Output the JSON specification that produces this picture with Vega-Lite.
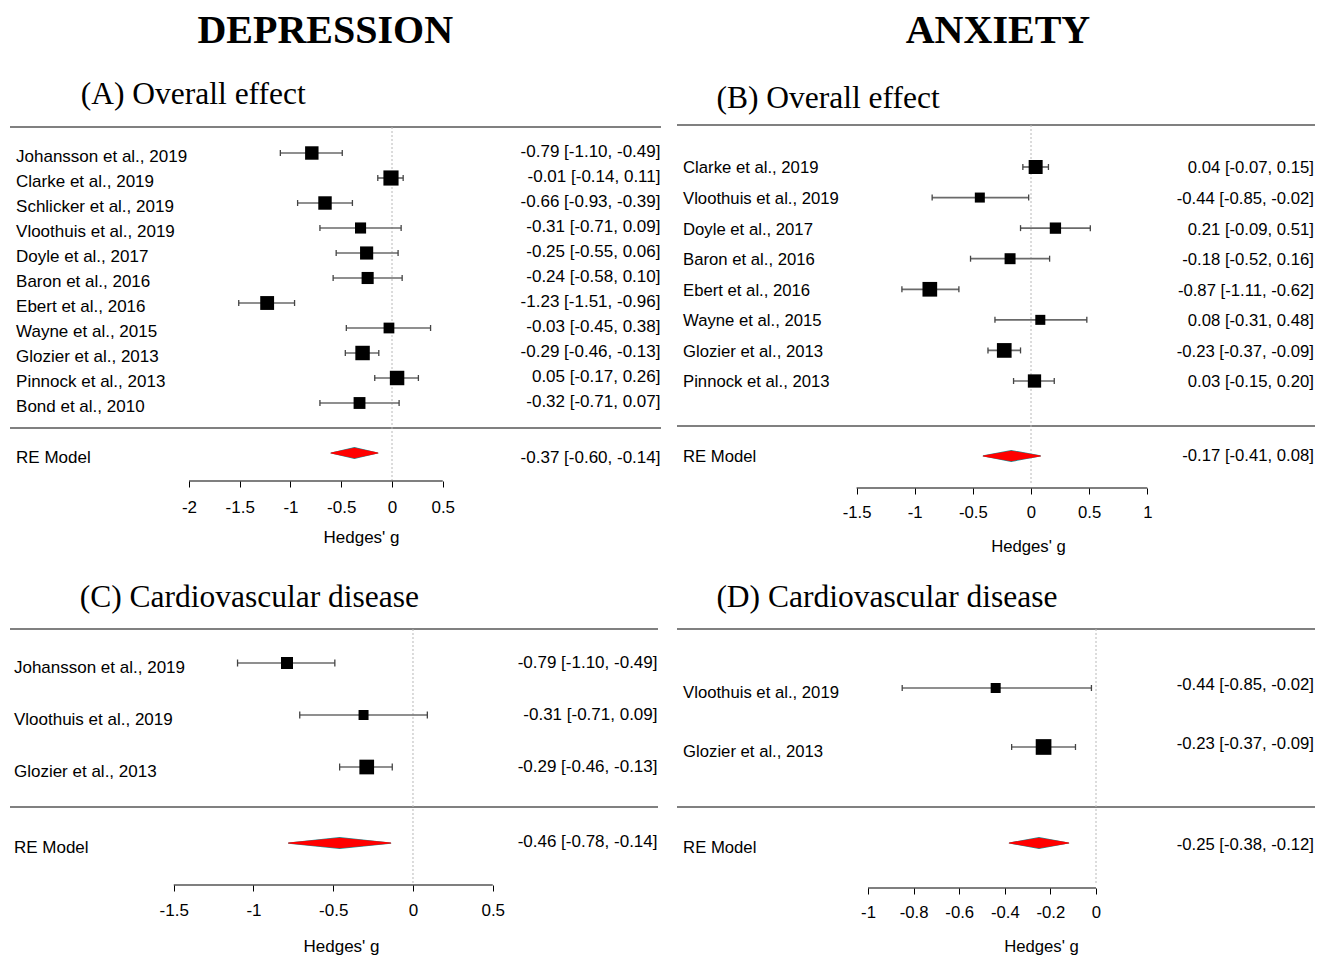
{
"$schema":"https://vega.github.io/schema/vega-lite/v6.json",
"background":"white",
"padding":{"left":9,"top":0,"right":5,"bottom":0},
"config":{"view":{"stroke":null}},
"bounds":"flush",
"align":"each",
"columns":2,
"spacing":{"row":72,"column":16},
"datasets":{
"A":[
{"row":1,"study":"Johansson et al., 2019","est":-0.79,"lb":-1.10,"ub":-0.49,"weight":9.5,"ci":"-0.79 [-1.10, -0.49]"},
{"row":2,"study":"Clarke et al., 2019","est":-0.01,"lb":-0.14,"ub":0.11,"weight":12.1,"ci":"-0.01 [-0.14, 0.11]"},
{"row":3,"study":"Schlicker et al., 2019","est":-0.66,"lb":-0.93,"ub":-0.39,"weight":9.5,"ci":"-0.66 [-0.93, -0.39]"},
{"row":4,"study":"Vloothuis et al., 2019","est":-0.31,"lb":-0.71,"ub":0.09,"weight":6.5,"ci":"-0.31 [-0.71, 0.09]"},
{"row":5,"study":"Doyle et al., 2017","est":-0.25,"lb":-0.55,"ub":0.06,"weight":9.1,"ci":"-0.25 [-0.55, 0.06]"},
{"row":6,"study":"Baron et al., 2016","est":-0.24,"lb":-0.58,"ub":0.10,"weight":7.7,"ci":"-0.24 [-0.58, 0.10]"},
{"row":7,"study":"Ebert et al., 2016","est":-1.23,"lb":-1.51,"ub":-0.96,"weight":10.1,"ci":"-1.23 [-1.51, -0.96]"},
{"row":8,"study":"Wayne et al., 2015","est":-0.03,"lb":-0.45,"ub":0.38,"weight":6.1,"ci":"-0.03 [-0.45, 0.38]"},
{"row":9,"study":"Glozier et al., 2013","est":-0.29,"lb":-0.46,"ub":-0.13,"weight":11.0,"ci":"-0.29 [-0.46, -0.13]"},
{"row":10,"study":"Pinnock et al., 2013","est":0.05,"lb":-0.17,"ub":0.26,"weight":11.0,"ci":"0.05 [-0.17, 0.26]"},
{"row":11,"study":"Bond et al., 2010","est":-0.32,"lb":-0.71,"ub":0.07,"weight":7.4,"ci":"-0.32 [-0.71, 0.07]"}
],
"B":[
{"row":1,"study":"Clarke et al., 2019","est":0.04,"lb":-0.07,"ub":0.15,"weight":15.6,"ci":"0.04 [-0.07,  0.15]"},
{"row":2,"study":"Vloothuis et al., 2019","est":-0.44,"lb":-0.85,"ub":-0.02,"weight":8.0,"ci":"-0.44 [-0.85, -0.02]"},
{"row":3,"study":"Doyle et al., 2017","est":0.21,"lb":-0.09,"ub":0.51,"weight":10.2,"ci":"0.21 [-0.09, 0.51]"},
{"row":4,"study":"Baron et al., 2016","est":-0.18,"lb":-0.52,"ub":0.16,"weight":9.6,"ci":"-0.18 [-0.52, 0.16]"},
{"row":5,"study":"Ebert et al., 2016","est":-0.87,"lb":-1.11,"ub":-0.62,"weight":17.2,"ci":"-0.87 [-1.11, -0.62]"},
{"row":6,"study":"Wayne et al., 2015","est":0.08,"lb":-0.31,"ub":0.48,"weight":8.0,"ci":"0.08 [-0.31, 0.48]"},
{"row":7,"study":"Glozier et al., 2013","est":-0.23,"lb":-0.37,"ub":-0.09,"weight":17.2,"ci":"-0.23 [-0.37, -0.09]"},
{"row":8,"study":"Pinnock et al., 2013","est":0.03,"lb":-0.15,"ub":0.20,"weight":14.1,"ci":"0.03 [-0.15, 0.20]"}
],
"C":[
{"row":1,"study":"Johansson et al., 2019","est":-0.79,"lb":-1.10,"ub":-0.49,"weight":31.3,"ci":"-0.79 [-1.10, -0.49]"},
{"row":2,"study":"Vloothuis et al., 2019","est":-0.31,"lb":-0.71,"ub":0.09,"weight":21.7,"ci":"-0.31 [-0.71, 0.09]"},
{"row":3,"study":"Glozier et al., 2013","est":-0.29,"lb":-0.46,"ub":-0.13,"weight":47.0,"ci":"-0.29 [-0.46, -0.13]"}
],
"D":[
{"row":1,"study":"Vloothuis et al., 2019","est":-0.44,"lb":-0.85,"ub":-0.02,"weight":28.9,"ci":"-0.44 [-0.85, -0.02]"},
{"row":2,"study":"Glozier et al., 2013","est":-0.23,"lb":-0.37,"ub":-0.09,"weight":71.1,"ci":"-0.23 [-0.37, -0.09]"}
],
"REA":[{"model":"RE Model","est":-0.37,"lb":-0.60,"ub":-0.14,"ci":"-0.37 [-0.60, -0.14]"}],
"REB":[{"model":"RE Model","est":-0.17,"lb":-0.41,"ub":0.08,"ci":"-0.17 [-0.41, 0.08]"}],
"REC":[{"model":"RE Model","est":-0.46,"lb":-0.78,"ub":-0.14,"ci":"-0.46 [-0.78, -0.14]"}],
"RED":[{"model":"RE Model","est":-0.25,"lb":-0.38,"ub":-0.12,"ci":"-0.25 [-0.38, -0.12]"}]
},
"concat":[
{
"width":651,"height":481,
"resolve":{"axis":{"x":"independent"}},
"layer":[
{"data":{"values":[{"t":"DEPRESSION"}]},"mark":{"type":"text","font":"Liberation Serif","fontSize":40,"fontWeight":"bold","align":"center","baseline":"alphabetic","color":"black"},"encoding":{"text":{"field":"t"},"x":{"datum":-0.658,"type":"quantitative","scale":{"domain":[-3.7635,2.6502],"nice":false,"zero":false},"axis":null},"y":{"datum":-3.39,"type":"quantitative","scale":{"domain":[-5.12,14.12],"nice":false,"zero":false,"reverse":true},"axis":null}}},
{"data":{"values":[{"t":"(A) Overall effect"}]},"mark":{"type":"text","font":"Liberation Serif","fontSize":31.5,"align":"left","baseline":"alphabetic","color":"black"},"encoding":{"text":{"field":"t"},"x":{"datum":-3.067,"type":"quantitative","scale":{"domain":[-3.7635,2.6502],"nice":false,"zero":false},"axis":null},"y":{"datum":-0.96,"type":"quantitative","scale":{"domain":[-5.12,14.12],"nice":false,"zero":false,"reverse":true},"axis":null}}},
{"data":{"values":[{}]},"mark":{"type":"rule","color":"#808080","strokeWidth":2},"encoding":{"y":{"datum":-0.04,"type":"quantitative","scale":{"domain":[-5.12,14.12],"nice":false,"zero":false,"reverse":true},"axis":null}}},
{"data":{"values":[{}]},"mark":{"type":"rule","color":"#808080","strokeWidth":2},"encoding":{"y":{"datum":12.0,"type":"quantitative","scale":{"domain":[-5.12,14.12],"nice":false,"zero":false,"reverse":true},"axis":null}}},
{"data":{"values":[{}]},"mark":{"type":"rule","color":"#b8b8b8","strokeWidth":1,"strokeDash":[2,2]},"encoding":{"x":{"datum":0,"type":"quantitative","scale":{"domain":[-3.7635,2.6502],"nice":false,"zero":false},"axis":null},"y":{"datum":-0.04,"type":"quantitative","scale":{"domain":[-5.12,14.12],"nice":false,"zero":false,"reverse":true},"axis":null},"y2":{"datum":14.08}}},
{"data":{"values":[{}]},"mark":{"type":"rule","color":"black","strokeWidth":1.2},"encoding":{"x":{"datum":-2,"type":"quantitative","scale":{"domain":[-3.7635,2.6502],"nice":false,"zero":false},"axis":null},"x2":{"datum":0.5},"y":{"datum":14.12,"type":"quantitative","scale":{"domain":[-5.12,14.12],"nice":false,"zero":false,"reverse":true},"axis":null}}},
{"data":{"name":"A"},"mark":{"type":"rule","color":"#6a6a6a","strokeWidth":1.7},"encoding":{"x":{"field":"lb","type":"quantitative","scale":{"domain":[-3.7635,2.6502],"nice":false,"zero":false},"axis":{"orient":"bottom","values":[-2,-1.5,-1,-0.5,0,0.5],"domain":false,"grid":false,"tickSize":6,"tickColor":"black","tickWidth":1,"labelFont":"Liberation Sans","labelFontSize":17,"labelColor":"black","labelPadding":12,"labelExpr":"datum.value + ''","labelFlush":false,"labelOverlap":false,"title":"Hedges' g","titleFont":"Liberation Sans","titleFontSize":17,"titleFontWeight":"normal","titleColor":"black","titlePadding":14,"titleX":351}},"x2":{"field":"ub"},"y":{"field":"row","type":"quantitative","scale":{"domain":[-5.12,14.12],"nice":false,"zero":false,"reverse":true},"axis":null}}},
{"data":{"name":"A"},"mark":{"type":"point","shape":"M0,-1L0,1","filled":false,"color":"#444444","strokeWidth":1.3,"size":36,"opacity":1},"encoding":{"x":{"field":"lb","type":"quantitative","scale":{"domain":[-3.7635,2.6502],"nice":false,"zero":false},"axis":null},"y":{"field":"row","type":"quantitative","scale":{"domain":[-5.12,14.12],"nice":false,"zero":false,"reverse":true},"axis":null}}},
{"data":{"name":"A"},"mark":{"type":"point","shape":"M0,-1L0,1","filled":false,"color":"#444444","strokeWidth":1.3,"size":36,"opacity":1},"encoding":{"x":{"field":"ub","type":"quantitative","scale":{"domain":[-3.7635,2.6502],"nice":false,"zero":false},"axis":null},"y":{"field":"row","type":"quantitative","scale":{"domain":[-5.12,14.12],"nice":false,"zero":false,"reverse":true},"axis":null}}},
{"data":{"name":"A"},"mark":{"type":"point","shape":"square","filled":true,"color":"black","opacity":1},"encoding":{"x":{"field":"est","type":"quantitative","scale":{"domain":[-3.7635,2.6502],"nice":false,"zero":false},"axis":null},"y":{"field":"row","type":"quantitative","scale":{"domain":[-5.12,14.12],"nice":false,"zero":false,"reverse":true},"axis":null},"size":{"field":"weight","type":"quantitative","scale":{"domain":[0,100],"range":[0,1900]},"legend":null}}},
{"data":{"name":"A"},"mark":{"type":"text","font":"Liberation Sans","fontSize":17,"align":"left","baseline":"middle","dy":4,"color":"black"},"encoding":{"text":{"field":"study"},"x":{"datum":-3.704,"type":"quantitative","scale":{"domain":[-3.7635,2.6502],"nice":false,"zero":false},"axis":null},"y":{"field":"row","type":"quantitative","scale":{"domain":[-5.12,14.12],"nice":false,"zero":false,"reverse":true},"axis":null}}},
{"data":{"name":"A"},"mark":{"type":"text","font":"Liberation Sans","fontSize":17,"align":"right","baseline":"middle","dy":-1,"color":"black"},"encoding":{"text":{"field":"ci"},"x":{"datum":2.645,"type":"quantitative","scale":{"domain":[-3.7635,2.6502],"nice":false,"zero":false},"axis":null},"y":{"field":"row","type":"quantitative","scale":{"domain":[-5.12,14.12],"nice":false,"zero":false,"reverse":true},"axis":null}}},
{"data":{"name":"REA"},"mark":{"type":"text","font":"Liberation Sans","fontSize":17,"align":"left","baseline":"middle","dy":5,"color":"black"},"encoding":{"text":{"field":"model"},"x":{"datum":-3.704,"type":"quantitative","scale":{"domain":[-3.7635,2.6502],"nice":false,"zero":false},"axis":null},"y":{"datum":13,"type":"quantitative","scale":{"domain":[-5.12,14.12],"nice":false,"zero":false,"reverse":true},"axis":null}}},
{"data":{"name":"REA"},"mark":{"type":"text","font":"Liberation Sans","fontSize":17,"align":"right","baseline":"middle","dy":5,"color":"black"},"encoding":{"text":{"field":"ci"},"x":{"datum":2.645,"type":"quantitative","scale":{"domain":[-3.7635,2.6502],"nice":false,"zero":false},"axis":null},"y":{"datum":13,"type":"quantitative","scale":{"domain":[-5.12,14.12],"nice":false,"zero":false,"reverse":true},"axis":null}}},
{"data":{"name":"REA"},"transform":[{"fold":["lb","est","ub"],"as":["part","g"]}],"mark":{"type":"trail","color":"#1f8f95"},"encoding":{"x":{"field":"g","type":"quantitative","scale":{"domain":[-3.7635,2.6502],"nice":false,"zero":false},"axis":null},"y":{"datum":13,"type":"quantitative","scale":{"domain":[-5.12,14.12],"nice":false,"zero":false,"reverse":true},"axis":null},"size":{"field":"part","type":"ordinal","scale":{"type":"ordinal","domain":["lb","est","ub"],"range":[1.2,12,1.2]},"legend":null},"order":{"field":"g","type":"quantitative"}}},
{"data":{"name":"REA"},"transform":[{"fold":["lb","est","ub"],"as":["part","g"]}],"mark":{"type":"trail","color":"red"},"encoding":{"x":{"field":"g","type":"quantitative","scale":{"domain":[-3.7635,2.6502],"nice":false,"zero":false},"axis":null},"y":{"datum":13,"type":"quantitative","scale":{"domain":[-5.12,14.12],"nice":false,"zero":false,"reverse":true},"axis":null},"size":{"field":"part","type":"ordinal","scale":{"type":"ordinal","domain":["lb","est","ub"],"range":[0,10.5,0]},"legend":null},"order":{"field":"g","type":"quantitative"}}}
]
},
{
"width":638,"height":488,
"resolve":{"axis":{"x":"independent"}},
"layer":[
{"data":{"values":[{"t":"ANXIETY"}]},"mark":{"type":"text","font":"Liberation Serif","fontSize":40,"fontWeight":"bold","align":"center","baseline":"alphabetic","color":"black"},"encoding":{"text":{"field":"t"},"x":{"datum":-0.284,"type":"quantitative","scale":{"domain":[-3.0439,2.4420],"nice":false,"zero":false},"axis":null},"y":{"datum":-3.045,"type":"quantitative","scale":{"domain":[-4.462,11.50],"nice":false,"zero":false,"reverse":true},"axis":null}}},
{"data":{"values":[{"t":"(B) Overall effect"}]},"mark":{"type":"text","font":"Liberation Serif","fontSize":31.5,"align":"left","baseline":"alphabetic","color":"black"},"encoding":{"text":{"field":"t"},"x":{"datum":-2.705,"type":"quantitative","scale":{"domain":[-3.0439,2.4420],"nice":false,"zero":false},"axis":null},"y":{"datum":-0.945,"type":"quantitative","scale":{"domain":[-4.462,11.50],"nice":false,"zero":false,"reverse":true},"axis":null}}},
{"data":{"values":[{}]},"mark":{"type":"rule","color":"#808080","strokeWidth":2},"encoding":{"y":{"datum":-0.373,"type":"quantitative","scale":{"domain":[-4.462,11.50],"nice":false,"zero":false,"reverse":true},"axis":null}}},
{"data":{"values":[{}]},"mark":{"type":"rule","color":"#808080","strokeWidth":2},"encoding":{"y":{"datum":9.47,"type":"quantitative","scale":{"domain":[-4.462,11.50],"nice":false,"zero":false,"reverse":true},"axis":null}}},
{"data":{"values":[{}]},"mark":{"type":"rule","color":"#b8b8b8","strokeWidth":1,"strokeDash":[2,2]},"encoding":{"x":{"datum":0,"type":"quantitative","scale":{"domain":[-3.0439,2.4420],"nice":false,"zero":false},"axis":null},"y":{"datum":-0.373,"type":"quantitative","scale":{"domain":[-4.462,11.50],"nice":false,"zero":false,"reverse":true},"axis":null},"y2":{"datum":11.34}}},
{"data":{"values":[{}]},"mark":{"type":"rule","color":"black","strokeWidth":1.2},"encoding":{"x":{"datum":-1.5,"type":"quantitative","scale":{"domain":[-3.0439,2.4420],"nice":false,"zero":false},"axis":null},"x2":{"datum":1},"y":{"datum":11.50,"type":"quantitative","scale":{"domain":[-4.462,11.50],"nice":false,"zero":false,"reverse":true},"axis":null}}},
{"data":{"name":"B"},"mark":{"type":"rule","color":"#6a6a6a","strokeWidth":1.7},"encoding":{"x":{"field":"lb","type":"quantitative","scale":{"domain":[-3.0439,2.4420],"nice":false,"zero":false},"axis":{"orient":"bottom","values":[-1.5,-1,-0.5,0,0.5,1],"domain":false,"grid":false,"tickSize":6,"tickColor":"black","tickWidth":1,"labelFont":"Liberation Sans","labelFontSize":16.7,"labelColor":"black","labelPadding":10,"labelExpr":"datum.value + ''","labelFlush":false,"labelOverlap":false,"title":"Hedges' g","titleFont":"Liberation Sans","titleFontSize":16.7,"titleFontWeight":"normal","titleColor":"black","titlePadding":18,"titleX":351}},"x2":{"field":"ub"},"y":{"field":"row","type":"quantitative","scale":{"domain":[-4.462,11.50],"nice":false,"zero":false,"reverse":true},"axis":null}}},
{"data":{"name":"B"},"mark":{"type":"point","shape":"M0,-1L0,1","filled":false,"color":"#444444","strokeWidth":1.3,"size":36,"opacity":1},"encoding":{"x":{"field":"lb","type":"quantitative","scale":{"domain":[-3.0439,2.4420],"nice":false,"zero":false},"axis":null},"y":{"field":"row","type":"quantitative","scale":{"domain":[-4.462,11.50],"nice":false,"zero":false,"reverse":true},"axis":null}}},
{"data":{"name":"B"},"mark":{"type":"point","shape":"M0,-1L0,1","filled":false,"color":"#444444","strokeWidth":1.3,"size":36,"opacity":1},"encoding":{"x":{"field":"ub","type":"quantitative","scale":{"domain":[-3.0439,2.4420],"nice":false,"zero":false},"axis":null},"y":{"field":"row","type":"quantitative","scale":{"domain":[-4.462,11.50],"nice":false,"zero":false,"reverse":true},"axis":null}}},
{"data":{"name":"B"},"mark":{"type":"point","shape":"square","filled":true,"color":"black","opacity":1},"encoding":{"x":{"field":"est","type":"quantitative","scale":{"domain":[-3.0439,2.4420],"nice":false,"zero":false},"axis":null},"y":{"field":"row","type":"quantitative","scale":{"domain":[-4.462,11.50],"nice":false,"zero":false,"reverse":true},"axis":null},"size":{"field":"weight","type":"quantitative","scale":{"domain":[0,100],"range":[0,1254]},"legend":null}}},
{"data":{"name":"B"},"mark":{"type":"text","font":"Liberation Sans","fontSize":16.7,"align":"left","baseline":"middle","dy":1.5,"color":"black"},"encoding":{"text":{"field":"study"},"x":{"datum":-2.992,"type":"quantitative","scale":{"domain":[-3.0439,2.4420],"nice":false,"zero":false},"axis":null},"y":{"field":"row","type":"quantitative","scale":{"domain":[-4.462,11.50],"nice":false,"zero":false,"reverse":true},"axis":null}}},
{"data":{"name":"B"},"mark":{"type":"text","font":"Liberation Sans","fontSize":16.7,"align":"right","baseline":"middle","dy":1.5,"color":"black"},"encoding":{"text":{"field":"ci"},"x":{"datum":2.433,"type":"quantitative","scale":{"domain":[-3.0439,2.4420],"nice":false,"zero":false},"axis":null},"y":{"field":"row","type":"quantitative","scale":{"domain":[-4.462,11.50],"nice":false,"zero":false,"reverse":true},"axis":null}}},
{"data":{"name":"REB"},"mark":{"type":"text","font":"Liberation Sans","fontSize":16.7,"align":"left","baseline":"middle","dy":1.3,"color":"black"},"encoding":{"text":{"field":"model"},"x":{"datum":-2.992,"type":"quantitative","scale":{"domain":[-3.0439,2.4420],"nice":false,"zero":false},"axis":null},"y":{"datum":10.45,"type":"quantitative","scale":{"domain":[-4.462,11.50],"nice":false,"zero":false,"reverse":true},"axis":null}}},
{"data":{"name":"REB"},"mark":{"type":"text","font":"Liberation Sans","fontSize":16.7,"align":"right","baseline":"middle","dy":0,"color":"black"},"encoding":{"text":{"field":"ci"},"x":{"datum":2.433,"type":"quantitative","scale":{"domain":[-3.0439,2.4420],"nice":false,"zero":false},"axis":null},"y":{"datum":10.45,"type":"quantitative","scale":{"domain":[-4.462,11.50],"nice":false,"zero":false,"reverse":true},"axis":null}}},
{"data":{"name":"REB"},"transform":[{"fold":["lb","est","ub"],"as":["part","g"]}],"mark":{"type":"trail","color":"#1f8f95"},"encoding":{"x":{"field":"g","type":"quantitative","scale":{"domain":[-3.0439,2.4420],"nice":false,"zero":false},"axis":null},"y":{"datum":10.45,"type":"quantitative","scale":{"domain":[-4.462,11.50],"nice":false,"zero":false,"reverse":true},"axis":null},"size":{"field":"part","type":"ordinal","scale":{"type":"ordinal","domain":["lb","est","ub"],"range":[1.2,12,1.2]},"legend":null},"order":{"field":"g","type":"quantitative"}}},
{"data":{"name":"REB"},"transform":[{"fold":["lb","est","ub"],"as":["part","g"]}],"mark":{"type":"trail","color":"red"},"encoding":{"x":{"field":"g","type":"quantitative","scale":{"domain":[-3.0439,2.4420],"nice":false,"zero":false},"axis":null},"y":{"datum":10.45,"type":"quantitative","scale":{"domain":[-4.462,11.50],"nice":false,"zero":false,"reverse":true},"axis":null},"size":{"field":"part","type":"ordinal","scale":{"type":"ordinal","domain":["lb","est","ub"],"range":[0,10.5,0]},"legend":null},"order":{"field":"g","type":"quantitative"}}}
]
},
{
"width":648,"height":325,
"resolve":{"axis":{"x":"independent"}},
"layer":[
{"data":{"values":[{"t":"(C) Cardiovascular disease"}]},"mark":{"type":"text","font":"Liberation Serif","fontSize":31.5,"align":"left","baseline":"alphabetic","color":"black"},"encoding":{"text":{"field":"t"},"x":{"datum":-2.09,"type":"quantitative","scale":{"domain":[-2.5266,1.5361],"nice":false,"zero":false},"axis":null},"y":{"datum":-0.071,"type":"quantitative","scale":{"domain":[-0.981,5.269],"nice":false,"zero":false,"reverse":true},"axis":null}}},
{"data":{"values":[{}]},"mark":{"type":"rule","color":"#808080","strokeWidth":2},"encoding":{"y":{"datum":0.346,"type":"quantitative","scale":{"domain":[-0.981,5.269],"nice":false,"zero":false,"reverse":true},"axis":null}}},
{"data":{"values":[{}]},"mark":{"type":"rule","color":"#808080","strokeWidth":2},"encoding":{"y":{"datum":3.77,"type":"quantitative","scale":{"domain":[-0.981,5.269],"nice":false,"zero":false,"reverse":true},"axis":null}}},
{"data":{"values":[{}]},"mark":{"type":"rule","color":"#b8b8b8","strokeWidth":1,"strokeDash":[2,2]},"encoding":{"x":{"datum":0,"type":"quantitative","scale":{"domain":[-2.5266,1.5361],"nice":false,"zero":false},"axis":null},"y":{"datum":0.346,"type":"quantitative","scale":{"domain":[-0.981,5.269],"nice":false,"zero":false,"reverse":true},"axis":null},"y2":{"datum":5.23}}},
{"data":{"values":[{}]},"mark":{"type":"rule","color":"black","strokeWidth":1.2},"encoding":{"x":{"datum":-1.5,"type":"quantitative","scale":{"domain":[-2.5266,1.5361],"nice":false,"zero":false},"axis":null},"x2":{"datum":0.5},"y":{"datum":5.269,"type":"quantitative","scale":{"domain":[-0.981,5.269],"nice":false,"zero":false,"reverse":true},"axis":null}}},
{"data":{"name":"C"},"mark":{"type":"rule","color":"#6a6a6a","strokeWidth":1.7},"encoding":{"x":{"field":"lb","type":"quantitative","scale":{"domain":[-2.5266,1.5361],"nice":false,"zero":false},"axis":{"orient":"bottom","values":[-1.5,-1,-0.5,0,0.5],"domain":false,"grid":false,"tickSize":6,"tickColor":"black","tickWidth":1,"labelFont":"Liberation Sans","labelFontSize":17,"labelColor":"black","labelPadding":11,"labelExpr":"datum.value + ''","labelFlush":false,"labelOverlap":false,"title":"Hedges' g","titleFont":"Liberation Sans","titleFontSize":17,"titleFontWeight":"normal","titleColor":"black","titlePadding":20,"titleX":331}},"x2":{"field":"ub"},"y":{"field":"row","type":"quantitative","scale":{"domain":[-0.981,5.269],"nice":false,"zero":false,"reverse":true},"axis":null}}},
{"data":{"name":"C"},"mark":{"type":"point","shape":"M0,-1L0,1","filled":false,"color":"#444444","strokeWidth":1.3,"size":49,"opacity":1},"encoding":{"x":{"field":"lb","type":"quantitative","scale":{"domain":[-2.5266,1.5361],"nice":false,"zero":false},"axis":null},"y":{"field":"row","type":"quantitative","scale":{"domain":[-0.981,5.269],"nice":false,"zero":false,"reverse":true},"axis":null}}},
{"data":{"name":"C"},"mark":{"type":"point","shape":"M0,-1L0,1","filled":false,"color":"#444444","strokeWidth":1.3,"size":49,"opacity":1},"encoding":{"x":{"field":"ub","type":"quantitative","scale":{"domain":[-2.5266,1.5361],"nice":false,"zero":false},"axis":null},"y":{"field":"row","type":"quantitative","scale":{"domain":[-0.981,5.269],"nice":false,"zero":false,"reverse":true},"axis":null}}},
{"data":{"name":"C"},"mark":{"type":"point","shape":"square","filled":true,"color":"black","opacity":1},"encoding":{"x":{"field":"est","type":"quantitative","scale":{"domain":[-2.5266,1.5361],"nice":false,"zero":false},"axis":null},"y":{"field":"row","type":"quantitative","scale":{"domain":[-0.981,5.269],"nice":false,"zero":false,"reverse":true},"axis":null},"size":{"field":"weight","type":"quantitative","scale":{"domain":[0,100],"range":[0,460]},"legend":null}}},
{"data":{"name":"C"},"mark":{"type":"text","font":"Liberation Sans","fontSize":17,"align":"left","baseline":"middle","dy":5,"color":"black"},"encoding":{"text":{"field":"study"},"x":{"datum":-2.502,"type":"quantitative","scale":{"domain":[-2.5266,1.5361],"nice":false,"zero":false},"axis":null},"y":{"field":"row","type":"quantitative","scale":{"domain":[-0.981,5.269],"nice":false,"zero":false,"reverse":true},"axis":null}}},
{"data":{"name":"C"},"mark":{"type":"text","font":"Liberation Sans","fontSize":17,"align":"right","baseline":"middle","dy":0,"color":"black"},"encoding":{"text":{"field":"ci"},"x":{"datum":1.533,"type":"quantitative","scale":{"domain":[-2.5266,1.5361],"nice":false,"zero":false},"axis":null},"y":{"field":"row","type":"quantitative","scale":{"domain":[-0.981,5.269],"nice":false,"zero":false,"reverse":true},"axis":null}}},
{"data":{"name":"REC"},"mark":{"type":"text","font":"Liberation Sans","fontSize":17,"align":"left","baseline":"middle","dy":5,"color":"black"},"encoding":{"text":{"field":"model"},"x":{"datum":-2.502,"type":"quantitative","scale":{"domain":[-2.5266,1.5361],"nice":false,"zero":false},"axis":null},"y":{"datum":4.462,"type":"quantitative","scale":{"domain":[-0.981,5.269],"nice":false,"zero":false,"reverse":true},"axis":null}}},
{"data":{"name":"REC"},"mark":{"type":"text","font":"Liberation Sans","fontSize":17,"align":"right","baseline":"middle","dy":-1,"color":"black"},"encoding":{"text":{"field":"ci"},"x":{"datum":1.533,"type":"quantitative","scale":{"domain":[-2.5266,1.5361],"nice":false,"zero":false},"axis":null},"y":{"datum":4.462,"type":"quantitative","scale":{"domain":[-0.981,5.269],"nice":false,"zero":false,"reverse":true},"axis":null}}},
{"data":{"name":"REC"},"transform":[{"fold":["lb","est","ub"],"as":["part","g"]}],"mark":{"type":"trail","color":"#1f8f95"},"encoding":{"x":{"field":"g","type":"quantitative","scale":{"domain":[-2.5266,1.5361],"nice":false,"zero":false},"axis":null},"y":{"datum":4.462,"type":"quantitative","scale":{"domain":[-0.981,5.269],"nice":false,"zero":false,"reverse":true},"axis":null},"size":{"field":"part","type":"ordinal","scale":{"type":"ordinal","domain":["lb","est","ub"],"range":[1.2,12,1.2]},"legend":null},"order":{"field":"g","type":"quantitative"}}},
{"data":{"name":"REC"},"transform":[{"fold":["lb","est","ub"],"as":["part","g"]}],"mark":{"type":"trail","color":"red"},"encoding":{"x":{"field":"g","type":"quantitative","scale":{"domain":[-2.5266,1.5361],"nice":false,"zero":false},"axis":null},"y":{"datum":4.462,"type":"quantitative","scale":{"domain":[-0.981,5.269],"nice":false,"zero":false,"reverse":true},"axis":null},"size":{"field":"part","type":"ordinal","scale":{"type":"ordinal","domain":["lb","est","ub"],"range":[0,10.5,0]},"legend":null},"order":{"field":"g","type":"quantitative"}}}
]
},
{
"width":638,"height":328,
"resolve":{"axis":{"x":"independent"}},
"layer":[
{"data":{"values":[{"t":"(D) Cardiovascular disease"}]},"mark":{"type":"text","font":"Liberation Serif","fontSize":31.5,"align":"left","baseline":"alphabetic","color":"black"},"encoding":{"text":{"field":"t"},"x":{"datum":-1.665,"type":"quantitative","scale":{"domain":[-1.8377,0.9605],"nice":false,"zero":false},"axis":null},"y":{"datum":-0.378,"type":"quantitative","scale":{"domain":[-1.169,4.390],"nice":false,"zero":false,"reverse":true},"axis":null}}},
{"data":{"values":[{}]},"mark":{"type":"rule","color":"#808080","strokeWidth":2},"encoding":{"y":{"datum":0,"type":"quantitative","scale":{"domain":[-1.169,4.390],"nice":false,"zero":false,"reverse":true},"axis":null}}},
{"data":{"values":[{}]},"mark":{"type":"rule","color":"#808080","strokeWidth":2},"encoding":{"y":{"datum":3.017,"type":"quantitative","scale":{"domain":[-1.169,4.390],"nice":false,"zero":false,"reverse":true},"axis":null}}},
{"data":{"values":[{}]},"mark":{"type":"rule","color":"#b8b8b8","strokeWidth":1,"strokeDash":[2,2]},"encoding":{"x":{"datum":0,"type":"quantitative","scale":{"domain":[-1.8377,0.9605],"nice":false,"zero":false},"axis":null},"y":{"datum":0,"type":"quantitative","scale":{"domain":[-1.169,4.390],"nice":false,"zero":false,"reverse":true},"axis":null},"y2":{"datum":4.305}}},
{"data":{"values":[{}]},"mark":{"type":"rule","color":"black","strokeWidth":1.2},"encoding":{"x":{"datum":-1,"type":"quantitative","scale":{"domain":[-1.8377,0.9605],"nice":false,"zero":false},"axis":null},"x2":{"datum":0},"y":{"datum":4.390,"type":"quantitative","scale":{"domain":[-1.169,4.390],"nice":false,"zero":false,"reverse":true},"axis":null}}},
{"data":{"name":"D"},"mark":{"type":"rule","color":"#6a6a6a","strokeWidth":1.7},"encoding":{"x":{"field":"lb","type":"quantitative","scale":{"domain":[-1.8377,0.9605],"nice":false,"zero":false},"axis":{"orient":"bottom","values":[-1,-0.8,-0.6,-0.4,-0.2,0],"domain":false,"grid":false,"tickSize":6,"tickColor":"black","tickWidth":1,"labelFont":"Liberation Sans","labelFontSize":16.7,"labelColor":"black","labelPadding":10,"labelExpr":"datum.value + ''","labelFlush":false,"labelOverlap":false,"title":"Hedges' g","titleFont":"Liberation Sans","titleFontSize":16.7,"titleFontWeight":"normal","titleColor":"black","titlePadding":18,"titleX":364}},"x2":{"field":"ub"},"y":{"field":"row","type":"quantitative","scale":{"domain":[-1.169,4.390],"nice":false,"zero":false,"reverse":true},"axis":null}}},
{"data":{"name":"D"},"mark":{"type":"point","shape":"M0,-1L0,1","filled":false,"color":"#444444","strokeWidth":1.3,"size":36,"opacity":1},"encoding":{"x":{"field":"lb","type":"quantitative","scale":{"domain":[-1.8377,0.9605],"nice":false,"zero":false},"axis":null},"y":{"field":"row","type":"quantitative","scale":{"domain":[-1.169,4.390],"nice":false,"zero":false,"reverse":true},"axis":null}}},
{"data":{"name":"D"},"mark":{"type":"point","shape":"M0,-1L0,1","filled":false,"color":"#444444","strokeWidth":1.3,"size":36,"opacity":1},"encoding":{"x":{"field":"ub","type":"quantitative","scale":{"domain":[-1.8377,0.9605],"nice":false,"zero":false},"axis":null},"y":{"field":"row","type":"quantitative","scale":{"domain":[-1.169,4.390],"nice":false,"zero":false,"reverse":true},"axis":null}}},
{"data":{"name":"D"},"mark":{"type":"point","shape":"square","filled":true,"color":"black","opacity":1},"encoding":{"x":{"field":"est","type":"quantitative","scale":{"domain":[-1.8377,0.9605],"nice":false,"zero":false},"axis":null},"y":{"field":"row","type":"quantitative","scale":{"domain":[-1.169,4.390],"nice":false,"zero":false,"reverse":true},"axis":null},"size":{"field":"weight","type":"quantitative","scale":{"domain":[0,100],"range":[0,346]},"legend":null}}},
{"data":{"name":"D"},"mark":{"type":"text","font":"Liberation Sans","fontSize":16.7,"align":"left","baseline":"middle","dy":5,"color":"black"},"encoding":{"text":{"field":"study"},"x":{"datum":-1.811,"type":"quantitative","scale":{"domain":[-1.8377,0.9605],"nice":false,"zero":false},"axis":null},"y":{"field":"row","type":"quantitative","scale":{"domain":[-1.169,4.390],"nice":false,"zero":false,"reverse":true},"axis":null}}},
{"data":{"name":"D"},"mark":{"type":"text","font":"Liberation Sans","fontSize":16.7,"align":"right","baseline":"middle","dy":-3,"color":"black"},"encoding":{"text":{"field":"ci"},"x":{"datum":0.956,"type":"quantitative","scale":{"domain":[-1.8377,0.9605],"nice":false,"zero":false},"axis":null},"y":{"field":"row","type":"quantitative","scale":{"domain":[-1.169,4.390],"nice":false,"zero":false,"reverse":true},"axis":null}}},
{"data":{"name":"RED"},"mark":{"type":"text","font":"Liberation Sans","fontSize":16.7,"align":"left","baseline":"middle","dy":5,"color":"black"},"encoding":{"text":{"field":"model"},"x":{"datum":-1.811,"type":"quantitative","scale":{"domain":[-1.8377,0.9605],"nice":false,"zero":false},"axis":null},"y":{"datum":3.627,"type":"quantitative","scale":{"domain":[-1.169,4.390],"nice":false,"zero":false,"reverse":true},"axis":null}}},
{"data":{"name":"RED"},"mark":{"type":"text","font":"Liberation Sans","fontSize":16.7,"align":"right","baseline":"middle","dy":2,"color":"black"},"encoding":{"text":{"field":"ci"},"x":{"datum":0.956,"type":"quantitative","scale":{"domain":[-1.8377,0.9605],"nice":false,"zero":false},"axis":null},"y":{"datum":3.627,"type":"quantitative","scale":{"domain":[-1.169,4.390],"nice":false,"zero":false,"reverse":true},"axis":null}}},
{"data":{"name":"RED"},"transform":[{"fold":["lb","est","ub"],"as":["part","g"]}],"mark":{"type":"trail","color":"#1f8f95"},"encoding":{"x":{"field":"g","type":"quantitative","scale":{"domain":[-1.8377,0.9605],"nice":false,"zero":false},"axis":null},"y":{"datum":3.627,"type":"quantitative","scale":{"domain":[-1.169,4.390],"nice":false,"zero":false,"reverse":true},"axis":null},"size":{"field":"part","type":"ordinal","scale":{"type":"ordinal","domain":["lb","est","ub"],"range":[1.2,12,1.2]},"legend":null},"order":{"field":"g","type":"quantitative"}}},
{"data":{"name":"RED"},"transform":[{"fold":["lb","est","ub"],"as":["part","g"]}],"mark":{"type":"trail","color":"red"},"encoding":{"x":{"field":"g","type":"quantitative","scale":{"domain":[-1.8377,0.9605],"nice":false,"zero":false},"axis":null},"y":{"datum":3.627,"type":"quantitative","scale":{"domain":[-1.169,4.390],"nice":false,"zero":false,"reverse":true},"axis":null},"size":{"field":"part","type":"ordinal","scale":{"type":"ordinal","domain":["lb","est","ub"],"range":[0,10.5,0]},"legend":null},"order":{"field":"g","type":"quantitative"}}}
]
}
]
}
